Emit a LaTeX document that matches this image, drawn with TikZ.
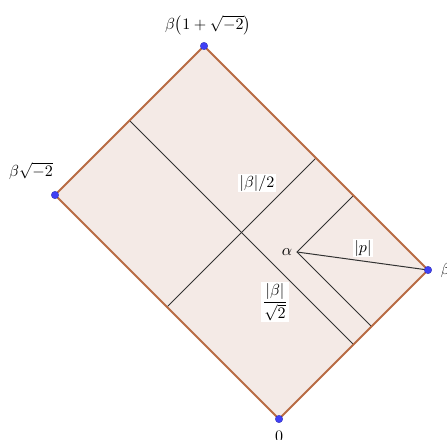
\documentclass[tikz,border=0pt]{standalone}
\usepackage{amsmath}
\usetikzlibrary{calc}
\definecolor{regfill}{RGB}{244,234,230}
\definecolor{edgecol}{RGB}{184,107,67}
\definecolor{dotcol}{RGB}{64,64,245}
\definecolor{linecol}{RGB}{50,50,50}
\tikzset{
  edge/.style={draw=edgecol, line width=1.8pt, line cap=round, line join=round},
  inner/.style={draw=linecol, line width=1pt},
  ptdot/.style={circle, fill=dotcol, draw=dotcol!70!black, line width=0.3pt, inner sep=0pt, minimum size=7.5pt},
  lbl/.style={scale=1.6, inner sep=1pt},
  wlbl/.style={lbl, fill=white, inner sep=0.8pt}
}
\begin{document}
\begin{tikzpicture}[x=1pt, y=-1pt]
\useasboundingbox (0,0) rectangle (447,439);
\coordinate (O) at (279,419);
\coordinate (B) at (428,270);
\coordinate (L) at (55,195);
\coordinate (T) at (204,46);
\coordinate (a) at (297,252);
\coordinate (M1) at ($(L)!0.5!(T)$);
\coordinate (M2) at ($(O)!0.5!(B)$);
\coordinate (M3) at ($(L)!0.5!(O)$);
\coordinate (M4) at ($(T)!0.5!(B)$);
\coordinate (A1) at (353.5,195.5);
\coordinate (A2) at (371.5,326.5);
\fill[regfill] (O) -- (B) -- (T) -- (L) -- cycle;
\draw[inner] (M1) -- (M2);
\draw[inner] (M3) -- (M4);
\draw[inner] (A1) -- (a) -- (A2);
\draw[inner] (a) -- (B);
\draw[edge] (O) -- (B) -- (T) -- (L) -- cycle;
\node[ptdot] (nO) at (O) {};
\node[ptdot] (nB) at (B) {};
\node[ptdot] (nL) at (L) {};
\node[ptdot] (nT) at (T) {};
\node[lbl] (lT) at (208,25) {$\beta\bigl(1+\sqrt{-2}\bigr)$};
\node[lbl] (lL) at (31,171) {$\beta\sqrt{-2}$};
\node[lbl] (lO) at (279,436.5) {$0$};
\node[lbl, anchor=west] (lB) at (439,270) {$\beta$};
\node[lbl] (la) at (287,252) {$\alpha$};
\node[wlbl] (l2) at (257,183) {$|\beta|/2$};
\node[wlbl] (lr) at (275,302) {$\dfrac{|\beta|}{\sqrt{2}}$};
\node[wlbl] (lp) at (363,248) {$|p|$};
\end{tikzpicture}
\end{document}
